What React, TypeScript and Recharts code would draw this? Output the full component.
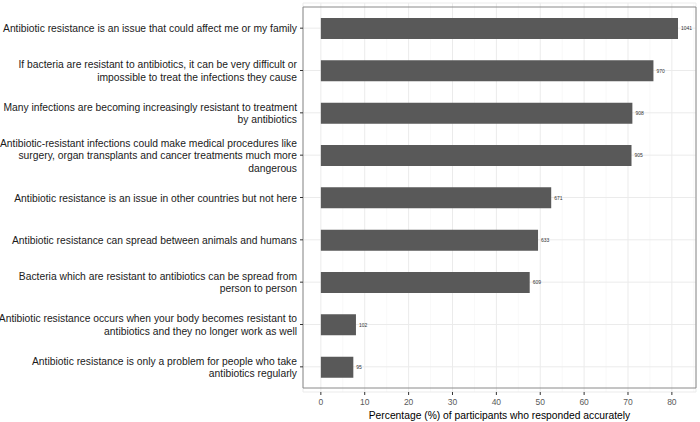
import React from 'react'
import { BarChart, Bar, XAxis, YAxis, CartesianGrid, ReferenceArea, LabelList } from 'recharts'

const statements = [
  'Antibiotic resistance is an issue that could affect me or my family',
  'If bacteria are resistant to antibiotics, it can be very difficult or\nimpossible to treat the infections they cause',
  'Many infections are becoming increasingly resistant to treatment\nby antibiotics',
  'Antibiotic-resistant infections could make medical procedures like\nsurgery, organ transplants and cancer treatments much more\ndangerous',
  'Antibiotic resistance is an issue in other countries but not here',
  'Antibiotic resistance can spread between animals and humans',
  'Bacteria which are resistant to antibiotics can be spread from\nperson to person',
  'Antibiotic resistance occurs when your body becomes resistant to\nantibiotics and they no longer work as well',
  'Antibiotic resistance is only a problem for people who take\nantibiotics regularly',
]
const percentages = [81.4, 75.8, 71.0, 70.8, 52.5, 49.5, 47.6, 8.0, 7.4]
const counts = [1041, 970, 908, 905, 671, 633, 609, 102, 95]
const xTicks = [0, 10, 20, 30, 40, 50, 60, 70, 80]
const minorTicks = [5, 15, 25, 35, 45, 55, 65, 75, 85]
const xDomain = [-4.07, 85.5]

const data = statements.map((s, i) => ({ statement: s, pct: percentages[i], n: counts[i] }))

const YTick = ({ x, y, payload }: any) => {
  const lines = String(payload.value).split('\n')
  const lh = 12.5
  const y0 = y - ((lines.length - 1) * lh) / 2 + 4
  return (
    <text x={x} y={y0} textAnchor="end" fontSize={10.3} fill="#1a1a1a" fontFamily="Liberation Sans, Arial, sans-serif">
      {lines.map((l, i) => (
        <tspan key={i} x={x} dy={i === 0 ? 0 : lh}>{l}</tspan>
      ))}
    </text>
  )
}

export default function App() {
  return (
    <div style={{ position: 'absolute', left: 0, top: 0, fontFamily: 'Liberation Sans, Arial, sans-serif' }}>
      <BarChart width={700} height={422} data={data} layout="vertical" margin={{ top: 3, right: 4, bottom: 0, left: 0 }}>
        <CartesianGrid stroke="#f4f4f4" strokeWidth={0.6} horizontal={false} verticalValues={minorTicks} />
        <CartesianGrid stroke="#ebebeb" strokeWidth={1} />
        <XAxis
          type="number"
          dataKey="pct"
          domain={xDomain}
          ticks={xTicks}
          allowDataOverflow
          height={30}
          tickSize={3}
          tickLine={{ stroke: '#333' }}
          axisLine={false}
          tick={{ fontSize: 8.5, fill: '#5a5a5a' }}
          tickMargin={4}
          label={{ value: 'Percentage (%) of participants who responded accurately', position: 'insideBottom', offset: 3, fontSize: 10.3, fill: '#000' }}
        />
        <YAxis
          type="category"
          dataKey="statement"
          width={303}
          tick={<YTick />}
          tickSize={3}
          tickMargin={3}
          tickLine={{ stroke: '#333' }}
          axisLine={false}
          interval={0}
          padding={{ top: 4, bottom: 4 }}
        />
        <Bar dataKey="pct" fill="#595959" barSize={21} isAnimationActive={false}>
          <LabelList dataKey="n" position="right" offset={3} fontSize={5} fill="#333" />
        </Bar>
        <ReferenceArea x1={xDomain[0]} x2={xDomain[1]} fill="none" stroke="#8a8a8a" strokeWidth={1} ifOverflow="extendDomain" />
      </BarChart>
    </div>
  )
}
